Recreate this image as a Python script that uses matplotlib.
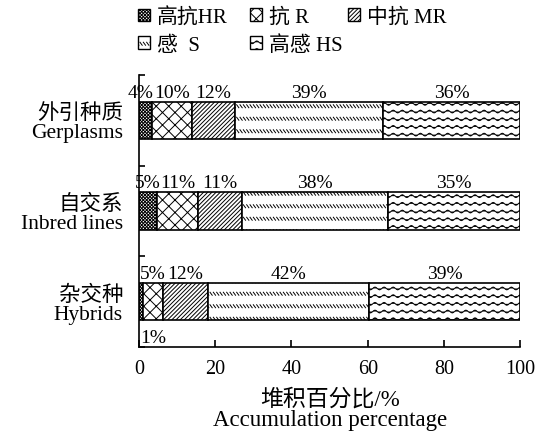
import warnings
import numpy as np
import matplotlib
matplotlib.use("Agg")
import matplotlib.pyplot as plt
import matplotlib.hatch as mhatch
from matplotlib.path import Path
from matplotlib.patches import Patch

warnings.filterwarnings("ignore")

# data (top to bottom)
categories = ["外引种质\nGerplasms", "自交系\nInbred lines", "杂交种\nHybrids"]
levels = ["高抗HR", "抗 R", "中抗 MR", "感  S", "高感 HS"]
HR = [3.5, 4.6, 1.0]
R = [10.3, 10.9, 5.2]
MR = [11.4, 11.4, 11.9]
S = [38.8, 38.5, 42.2]
HS = [36.0, 34.6, 39.7]
labels = [["4%", "10%", "12%", "39%", "36%"],
          ["5%", "11%", "11%", "38%", "35%"],
          ["1%", "5%", "12%", "42%", "39%"]]
xticks = [0, 20, 40, 60, 80, 100]


# custom hatches: 's' rows of short backslashes, 'w' waves, 'k' crosshatch
class RowDash(mhatch.HatchPatternBase):
    def __init__(self, hatch, density):
        n = hatch.count("s")
        self.rows = 8 * n
        self.cols = 30 * n
        self.num_vertices = self.rows * self.cols * 2

    def set_vertices_and_codes(self, vertices, codes):
        xs = np.arange(self.cols) / self.cols
        ys = (np.arange(self.rows) + 0.5) / self.rows
        X, Y = np.meshgrid(xs, ys)
        X, Y = X.ravel(), Y.ravel()
        vertices[0::2, 0] = X
        vertices[0::2, 1] = Y + 0.015
        vertices[1::2, 0] = X + 0.022
        vertices[1::2, 1] = Y - 0.015
        codes[0::2] = Path.MOVETO
        codes[1::2] = Path.LINETO


class Wave(mhatch.HatchPatternBase):
    def __init__(self, hatch, density):
        n = hatch.count("w")
        self.rows = 13 * n
        self.waves = 11 * n
        self.seg = self.waves * 8
        self.num_vertices = self.rows * (self.seg + 1)

    def set_vertices_and_codes(self, vertices, codes):
        t = np.linspace(0, 1, self.seg + 1)
        for i in range(self.rows):
            y0 = (i + 0.5) / self.rows
            a = i * (self.seg + 1)
            vertices[a:a + self.seg + 1, 0] = t
            vertices[a:a + self.seg + 1, 1] = y0 + 0.014 * np.sin(2 * np.pi * self.waves * t)
            codes[a:a + self.seg + 1] = Path.LINETO
            codes[a] = Path.MOVETO


class Cross(mhatch.HatchPatternBase):
    def __init__(self, hatch, density):
        self.n = 16 * hatch.count("k")
        self.num_vertices = (self.n + 1) * 4 if self.n else 0

    def set_vertices_and_codes(self, vertices, codes):
        steps = np.linspace(-0.5, 0.5, self.n + 1)
        m = (self.n + 1) * 2
        ne = vertices[:m]
        se = vertices[m:]
        ne[0::2, 0] = steps
        ne[0::2, 1] = -steps
        ne[1::2, 0] = 1.0 + steps
        ne[1::2, 1] = 1.0 - steps
        se[0::2, 0] = steps
        se[0::2, 1] = 1.0 + steps
        se[1::2, 0] = 1.0 + steps
        se[1::2, 1] = steps
        codes[0::2] = Path.MOVETO
        codes[1::2] = Path.LINETO


mhatch._hatch_types.extend([RowDash, Wave, Cross])

plt.rcParams["font.family"] = ["Liberation Serif", "Noto Sans CJK SC"]
plt.rcParams["font.size"] = 14
plt.rcParams["hatch.linewidth"] = 0.7

hatches = ["xxxxxxxxxx", "k", "////////", "s", "w"]
series = [HR, R, MR, S, HS]

fig = plt.figure(figsize=(5.43, 4.35), dpi=100)
ax = fig.add_axes([0.256, 0.2, 0.702, 0.625])

y = np.arange(len(categories))[::-1]
left = np.zeros(len(categories))
for vals, h in zip(series, hatches):
    ax.barh(y, vals, left=left, height=0.41, color="white",
            edgecolor="black", linewidth=1.2, hatch=h)
    left += np.array(vals)

# percentage labels
for i in range(len(categories)):
    starts = np.cumsum([0] + [s[i] for s in series[:-1]])
    for j, s in enumerate(series):
        if i == 2 and j == 0:
            ax.text(0.2, y[i] - 0.3, labels[i][j], ha="left", va="top")
        elif i == 0 and j == 0:
            ax.text(s[i] + 0.2, y[i] + 0.22, labels[i][j], ha="right", va="bottom")
        else:
            ax.text(starts[j] + s[i] / 2, y[i] + 0.22, labels[i][j],
                    ha="center", va="bottom")

ax.set_xlim(0, 100)
ax.set_ylim(-0.5, 2.5)
ax.set_xticks(xticks)
ax.tick_params(axis="x", direction="in", length=5, width=1.2, pad=9,
               labelsize=14.5)
ax.set_yticks([-0.5, 0.5, 1.5, 2.5])
ax.set_yticklabels([])
ax.set_yticks(y, categories, minor=True)
ax.tick_params(axis="y", which="major", direction="in", length=4, width=1.2)
ax.tick_params(axis="y", which="minor", length=0, pad=11.5, labelsize=15.5)
for t in ax.get_yticklabels(minor=True):
    t.set_multialignment("right")
    t.set_linespacing(1.0)
ax.spines[["top", "right"]].set_visible(False)
ax.spines[["left", "bottom"]].set_linewidth(1.2)
ax.set_xlabel("堆积百分比/%\nAccumulation percentage", labelpad=6.5,
              linespacing=1.0, fontsize=16.5)

handles = [Patch(facecolor="white", edgecolor="black", hatch=h, linewidth=1.0)
           for h in hatches]
# legend: three columns placed separately (HR, S | R, HS | MR)
columns = [[0, 3], [1, 4], [2]]
col_x = [132, 244, 342]
for idx, cx in zip(columns, col_x):
    leg = fig.legend([handles[k] for k in idx], [levels[k] for k in idx],
                     loc="upper left", bbox_to_anchor=(cx / 543, 0.995),
                     frameon=False, handlelength=0.55, handleheight=0.55,
                     handletextpad=0.35, labelspacing=0.4, fontsize=15,
                     borderaxespad=0.0, borderpad=0.3)

fig.savefig("out.png", dpi=100)
